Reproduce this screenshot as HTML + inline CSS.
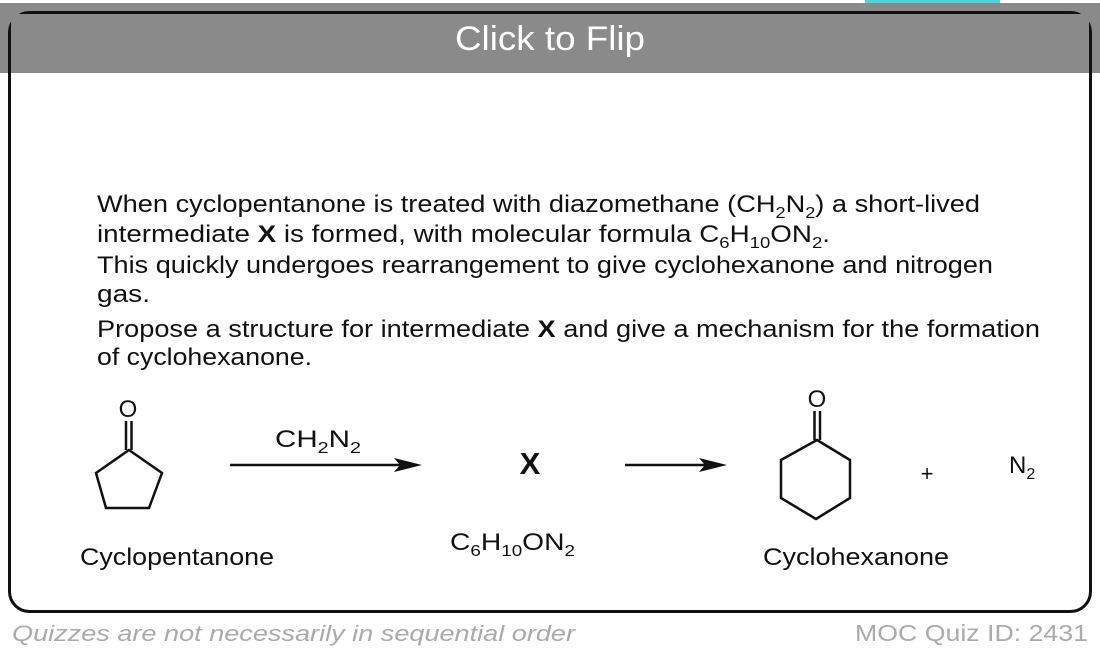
<!DOCTYPE html>
<html><head><meta charset="utf-8"><style>
html,body{margin:0;padding:0;background:#fff;}
svg{display:block;}
text{font-family:"Liberation Sans",Arial,sans-serif;fill:#111;}
</style></head><body>
<svg width="1100" height="658" viewBox="0 0 1100 658" xmlns="http://www.w3.org/2000/svg">
<rect x="0" y="0" width="1100" height="658" fill="#fff"/>
<rect x="0" y="3" width="1100" height="70" fill="#8a8a8a"/>
<rect x="865" y="0" width="135" height="3" fill="#4fd3e0"/>
<rect x="9.5" y="12.5" width="1081" height="599" rx="20" ry="20" fill="none" stroke="#111" stroke-width="3"/>
<rect x="11" y="14" width="1078" height="59" fill="#8a8a8a"/>
<text x="550" y="50" text-anchor="middle" font-size="34" style="fill:#fff" textLength="190" lengthAdjust="spacingAndGlyphs">Click to Flip</text>

<g font-size="24">
<text x="97" y="212" textLength="883" lengthAdjust="spacingAndGlyphs">When cyclopentanone is treated with diazomethane (CH<tspan font-size="16" dy="6">2</tspan><tspan dy="-6">N</tspan><tspan font-size="16" dy="6">2</tspan><tspan dy="-6">) a short-lived</tspan></text>
<text x="97" y="242" textLength="733" lengthAdjust="spacingAndGlyphs">intermediate <tspan font-weight="bold">X</tspan> is formed, with molecular formula C<tspan font-size="16" dy="6">6</tspan><tspan dy="-6">H</tspan><tspan font-size="16" dy="6">10</tspan><tspan dy="-6">ON</tspan><tspan font-size="16" dy="6">2</tspan><tspan dy="-6">.</tspan></text>
<text x="97" y="273" textLength="896" lengthAdjust="spacingAndGlyphs">This quickly undergoes rearrangement to give cyclohexanone and nitrogen</text>
<text x="97" y="302" textLength="53" lengthAdjust="spacingAndGlyphs">gas.</text>
<text x="97" y="337" textLength="943" lengthAdjust="spacingAndGlyphs">Propose a structure for intermediate <tspan font-weight="bold">X</tspan> and give a mechanism for the formation</text>
<text x="97" y="365" textLength="215" lengthAdjust="spacingAndGlyphs">of cyclohexanone.</text>
</g>

<g stroke="#111" stroke-width="2.5" fill="none" stroke-linejoin="miter">
<polygon points="129,450 162,473 149,508 106,508 96,473"/>
<line x1="126" y1="421" x2="126" y2="450"/>
<line x1="131.5" y1="421" x2="131.5" y2="450"/>
<polygon points="817,440 850,460 850,498 816,519 781,498 781,460"/>
<line x1="814.5" y1="411" x2="814.5" y2="440"/>
<line x1="820" y1="411" x2="820" y2="440"/>
<line x1="230" y1="465" x2="400" y2="465"/>
<line x1="625" y1="465" x2="705" y2="465"/>
</g>
<polygon points="422,465 394,458 400,465 394,472" fill="#111"/>
<polygon points="727,465 699,458 705,465 699,472" fill="#111"/>

<g font-size="24">
<text x="128" y="417" text-anchor="middle">O</text>
<text x="817" y="407" text-anchor="middle">O</text>
<text x="275" y="447" textLength="86" lengthAdjust="spacingAndGlyphs">CH<tspan font-size="16" dy="6">2</tspan><tspan dy="-6">N</tspan><tspan font-size="16" dy="6">2</tspan></text>
<text x="450" y="550" textLength="125" lengthAdjust="spacingAndGlyphs">C<tspan font-size="16" dy="6">6</tspan><tspan dy="-6">H</tspan><tspan font-size="16" dy="6">10</tspan><tspan dy="-6">ON</tspan><tspan font-size="16" dy="6">2</tspan></text>
<text x="1009" y="473">N<tspan font-size="16" dy="6">2</tspan></text>
<text x="927" y="481" text-anchor="middle" font-size="22">+</text>
<text x="80" y="565" textLength="194" lengthAdjust="spacingAndGlyphs">Cyclopentanone</text>
<text x="763" y="565" textLength="186" lengthAdjust="spacingAndGlyphs">Cyclohexanone</text>
</g>
<text x="530" y="474" text-anchor="middle" font-size="31" font-weight="bold">X</text>

<text x="12" y="641" font-size="22" font-style="italic" style="fill:#aaa" textLength="563" lengthAdjust="spacingAndGlyphs">Quizzes are not necessarily in sequential order</text>
<text x="1088" y="641" font-size="23" text-anchor="end" style="fill:#aaa" textLength="233" lengthAdjust="spacingAndGlyphs">MOC Quiz ID: 2431</text>
</svg>
</body></html>
